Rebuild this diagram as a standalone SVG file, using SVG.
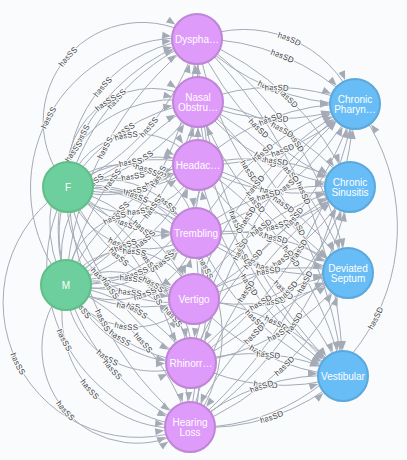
<svg xmlns="http://www.w3.org/2000/svg" width="407" height="460" viewBox="0 0 407 460">
<style>
.e{fill:none;stroke:#A5ABB6;stroke-width:1;marker-end:url(#arr)}
.l{font-family:"Liberation Sans",Arial,sans-serif;font-size:8px;fill:#3a3a3a;text-anchor:middle;dominant-baseline:central;stroke:#F9FBFD;stroke-width:2;paint-order:stroke}
.sym{fill:#DE9BF9;stroke:#BF85D6;stroke-width:2}
.gen{fill:#6DCE9E;stroke:#60BE86;stroke-width:2}
.dis{fill:#68BDF6;stroke:#5CA8DB;stroke-width:2}
.t{font-family:"Liberation Sans",Arial,sans-serif;font-size:10px;fill:#ffffff;text-anchor:middle}
</style>
<defs>
<marker id="arr" markerUnits="userSpaceOnUse" markerWidth="10" markerHeight="10" refX="0" refY="0" orient="auto" overflow="visible">
<path d="M-35,-3.5 L-26,0 L-35,3.5 Z" fill="#A5ABB6"/>
</marker>
</defs>
<rect width="407" height="460" fill="#F9FBFD"/>
<g id="connectors">
<path id="e1" class="e" d="M68 187 A99 99 0 0 1 197 39"/>
<path id="e2" class="e" d="M68 187 A140 140 0 0 1 197 39"/>
<path id="e3" class="e" d="M68 187 A235 235 0 0 1 197 39"/>
<path id="e4" class="e" d="M68 187 A235 235 0 0 0 197 39"/>
<path id="e5" class="e" d="M68 187 A85 85 0 0 1 198 102"/>
<path id="e6" class="e" d="M68 187 A186 186 0 0 1 198 102"/>
<path id="e7" class="e" d="M68 187 A186 186 0 0 0 198 102"/>
<path id="e8" class="e" d="M68 187 A93 93 0 0 0 198 102"/>
<path id="e9" class="e" d="M68 187 A73 73 0 0 1 198 165"/>
<path id="e10" class="e" d="M68 187 A158 158 0 0 1 198 165"/>
<path id="e11" class="e" d="M68 187 L198 165"/>
<path id="e12" class="e" d="M68 187 A158 158 0 0 0 198 165"/>
<path id="e13" class="e" d="M68 187 A79 79 0 0 0 198 165"/>
<path id="e14" class="e" d="M68 187 A75 75 0 0 1 196 233"/>
<path id="e15" class="e" d="M68 187 A163 163 0 0 1 196 233"/>
<path id="e16" class="e" d="M68 187 A163 163 0 0 0 196 233"/>
<path id="e17" class="e" d="M68 187 A82 82 0 0 0 196 233"/>
<path id="e18" class="e" d="M68 187 A93 93 0 0 1 194 299"/>
<path id="e19" class="e" d="M68 187 A203 203 0 0 1 194 299"/>
<path id="e20" class="e" d="M68 187 A203 203 0 0 0 194 299"/>
<path id="e21" class="e" d="M68 187 A101 101 0 0 0 194 299"/>
<path id="e22" class="e" d="M68 187 A118 118 0 0 1 191 363"/>
<path id="e23" class="e" d="M68 187 A258 258 0 0 1 191 363"/>
<path id="e24" class="e" d="M68 187 A258 258 0 0 0 191 363"/>
<path id="e25" class="e" d="M68 187 A129 129 0 0 0 191 363"/>
<path id="e26" class="e" d="M68 187 A148 148 0 0 1 190 427"/>
<path id="e27" class="e" d="M68 187 A323 323 0 0 1 190 427"/>
<path id="e28" class="e" d="M68 187 A323 323 0 0 0 190 427"/>
<path id="e29" class="e" d="M68 187 A161 161 0 0 0 190 427"/>
<path id="e30" class="e" d="M68 187 A135 135 0 0 0 190 427"/>
<path id="e31" class="e" d="M66 285 A150 150 0 0 1 197 39"/>
<path id="e32" class="e" d="M66 285 A200 200 0 0 1 197 39"/>
<path id="e33" class="e" d="M66 285 A335 335 0 0 1 197 39"/>
<path id="e34" class="e" d="M66 285 A335 335 0 0 0 197 39"/>
<path id="e35" class="e" d="M66 285 A124 124 0 0 1 198 102"/>
<path id="e36" class="e" d="M66 285 A271 271 0 0 1 198 102"/>
<path id="e37" class="e" d="M66 285 A271 271 0 0 0 198 102"/>
<path id="e38" class="e" d="M66 285 A136 136 0 0 0 198 102"/>
<path id="e39" class="e" d="M66 285 A98 98 0 0 1 198 165"/>
<path id="e40" class="e" d="M66 285 A214 214 0 0 1 198 165"/>
<path id="e41" class="e" d="M66 285 A214 214 0 0 0 198 165"/>
<path id="e42" class="e" d="M66 285 A107 107 0 0 0 198 165"/>
<path id="e43" class="e" d="M66 285 A77 77 0 0 1 196 233"/>
<path id="e44" class="e" d="M66 285 A168 168 0 0 1 196 233"/>
<path id="e45" class="e" d="M66 285 A168 168 0 0 0 196 233"/>
<path id="e46" class="e" d="M66 285 A84 84 0 0 0 196 233"/>
<path id="e47" class="e" d="M66 285 A71 71 0 0 1 194 299"/>
<path id="e48" class="e" d="M66 285 A155 155 0 0 1 194 299"/>
<path id="e49" class="e" d="M66 285 L194 299"/>
<path id="e50" class="e" d="M66 285 A155 155 0 0 0 194 299"/>
<path id="e51" class="e" d="M66 285 A77 77 0 0 0 194 299"/>
<path id="e52" class="e" d="M66 285 A81 81 0 0 1 191 363"/>
<path id="e53" class="e" d="M66 285 A176 176 0 0 1 191 363"/>
<path id="e54" class="e" d="M66 285 A176 176 0 0 0 191 363"/>
<path id="e55" class="e" d="M66 285 A88 88 0 0 0 191 363"/>
<path id="e56" class="e" d="M66 285 A104 104 0 0 1 190 427"/>
<path id="e57" class="e" d="M66 285 A227 227 0 0 1 190 427"/>
<path id="e58" class="e" d="M66 285 A227 227 0 0 0 190 427"/>
<path id="e59" class="e" d="M66 285 A113 113 0 0 0 190 427"/>
<path id="e60" class="e" d="M66 285 A95 95 0 0 0 190 427"/>
<path id="e61" class="e" d="M197 39 A222 222 0 0 1 355 104"/>
<path id="e62" class="e" d="M197 39 A222 222 0 0 0 355 104"/>
<path id="e63" class="e" d="M197 39 A120 120 0 0 1 355 104"/>
<path id="e64" class="e" d="M197 39 A277 277 0 0 1 350 187"/>
<path id="e65" class="e" d="M197 39 A277 277 0 0 0 350 187"/>
<path id="e66" class="e" d="M197 39 A361 361 0 0 1 348 273"/>
<path id="e67" class="e" d="M197 39 A361 361 0 0 0 348 273"/>
<path id="e68" class="e" d="M197 39 A477 477 0 0 1 343 376"/>
<path id="e69" class="e" d="M197 39 A477 477 0 0 0 343 376"/>
<path id="e70" class="e" d="M198 102 A204 204 0 0 1 355 104"/>
<path id="e71" class="e" d="M198 102 A204 204 0 0 0 355 104"/>
<path id="e72" class="e" d="M198 102 A226 226 0 0 1 350 187"/>
<path id="e73" class="e" d="M198 102 A226 226 0 0 0 350 187"/>
<path id="e74" class="e" d="M198 102 A295 295 0 0 1 348 273"/>
<path id="e75" class="e" d="M198 102 A295 295 0 0 0 348 273"/>
<path id="e76" class="e" d="M198 102 A403 403 0 0 1 343 376"/>
<path id="e77" class="e" d="M198 102 A403 403 0 0 0 343 376"/>
<path id="e78" class="e" d="M198 165 A218 218 0 0 1 355 104"/>
<path id="e79" class="e" d="M198 165 A218 218 0 0 0 355 104"/>
<path id="e80" class="e" d="M198 165 A200 200 0 0 1 350 187"/>
<path id="e81" class="e" d="M198 165 A200 200 0 0 0 350 187"/>
<path id="e82" class="e" d="M198 165 A240 240 0 0 1 348 273"/>
<path id="e83" class="e" d="M198 165 A240 240 0 0 0 348 273"/>
<path id="e84" class="e" d="M198 165 A333 333 0 0 1 343 376"/>
<path id="e85" class="e" d="M198 165 A333 333 0 0 0 343 376"/>
<path id="e86" class="e" d="M196 233 A266 266 0 0 1 355 104"/>
<path id="e87" class="e" d="M196 233 A266 266 0 0 0 355 104"/>
<path id="e88" class="e" d="M196 233 A209 209 0 0 1 350 187"/>
<path id="e89" class="e" d="M196 233 A209 209 0 0 0 350 187"/>
<path id="e90" class="e" d="M196 233 A204 204 0 0 1 348 273"/>
<path id="e91" class="e" d="M196 233 A204 204 0 0 0 348 273"/>
<path id="e92" class="e" d="M196 233 A266 266 0 0 1 343 376"/>
<path id="e93" class="e" d="M196 233 A266 266 0 0 0 343 376"/>
<path id="e94" class="e" d="M194 299 A329 329 0 0 1 355 104"/>
<path id="e95" class="e" d="M194 299 A329 329 0 0 0 355 104"/>
<path id="e96" class="e" d="M194 299 A250 250 0 0 1 350 187"/>
<path id="e97" class="e" d="M194 299 A250 250 0 0 0 350 187"/>
<path id="e98" class="e" d="M194 299 A203 203 0 0 1 348 273"/>
<path id="e99" class="e" d="M194 299 A203 203 0 0 0 348 273"/>
<path id="e100" class="e" d="M194 299 A218 218 0 0 1 343 376"/>
<path id="e101" class="e" d="M194 299 A218 218 0 0 0 343 376"/>
<path id="e102" class="e" d="M191 363 A399 399 0 0 1 355 104"/>
<path id="e103" class="e" d="M191 363 A399 399 0 0 0 355 104"/>
<path id="e104" class="e" d="M191 363 A308 308 0 0 1 350 187"/>
<path id="e105" class="e" d="M191 363 A308 308 0 0 0 350 187"/>
<path id="e106" class="e" d="M191 363 A235 235 0 0 1 348 273"/>
<path id="e107" class="e" d="M191 363 A235 235 0 0 0 348 273"/>
<path id="e108" class="e" d="M191 363 A199 199 0 0 1 343 376"/>
<path id="e109" class="e" d="M191 363 A199 199 0 0 0 343 376"/>
<path id="e110" class="e" d="M190 427 A472 472 0 0 1 355 104"/>
<path id="e111" class="e" d="M190 427 A472 472 0 0 0 355 104"/>
<path id="e112" class="e" d="M190 427 A200 200 0 0 0 355 104"/>
<path id="e113" class="e" d="M190 427 A374 374 0 0 1 350 187"/>
<path id="e114" class="e" d="M190 427 A374 374 0 0 0 350 187"/>
<path id="e115" class="e" d="M190 427 A287 287 0 0 1 348 273"/>
<path id="e116" class="e" d="M190 427 A287 287 0 0 0 348 273"/>
<path id="e117" class="e" d="M190 427 A209 209 0 0 1 343 376"/>
<path id="e118" class="e" d="M190 427 A209 209 0 0 0 343 376"/>
<path id="e119" class="e" d="M198 102 L197 39"/>
<path id="e120" class="e" d="M198 165 L198 102"/>
<text class="l"><textPath href="#e1" startOffset="50%">hasSS</textPath></text>
<text class="l"><textPath href="#e2" startOffset="50%">hasSS</textPath></text>
<text class="l"><textPath href="#e3" startOffset="50%">hasSS</textPath></text>
<text class="l"><textPath href="#e4" startOffset="50%">hasSS</textPath></text>
<text class="l"><textPath href="#e5" startOffset="50%">hasSS</textPath></text>
<text class="l"><textPath href="#e6" startOffset="50%">hasSS</textPath></text>
<text class="l"><textPath href="#e7" startOffset="50%">hasSS</textPath></text>
<text class="l"><textPath href="#e8" startOffset="50%">hasSS</textPath></text>
<text class="l"><textPath href="#e9" startOffset="50%">hasSS</textPath></text>
<text class="l"><textPath href="#e10" startOffset="50%">hasSS</textPath></text>
<text class="l"><textPath href="#e11" startOffset="50%">hasSS</textPath></text>
<text class="l"><textPath href="#e12" startOffset="50%">hasSS</textPath></text>
<text class="l"><textPath href="#e13" startOffset="50%">hasSS</textPath></text>
<text class="l"><textPath href="#e14" startOffset="50%">hasSS</textPath></text>
<text class="l"><textPath href="#e15" startOffset="50%">hasSS</textPath></text>
<text class="l"><textPath href="#e16" startOffset="50%">hasSS</textPath></text>
<text class="l"><textPath href="#e17" startOffset="50%">hasSS</textPath></text>
<text class="l"><textPath href="#e18" startOffset="50%">hasSS</textPath></text>
<text class="l"><textPath href="#e19" startOffset="50%">hasSS</textPath></text>
<text class="l"><textPath href="#e20" startOffset="50%">hasSS</textPath></text>
<text class="l"><textPath href="#e21" startOffset="50%">hasSS</textPath></text>
<text class="l"><textPath href="#e22" startOffset="50%">hasSS</textPath></text>
<text class="l"><textPath href="#e23" startOffset="50%">hasSS</textPath></text>
<text class="l"><textPath href="#e24" startOffset="50%">hasSS</textPath></text>
<text class="l"><textPath href="#e25" startOffset="50%">hasSS</textPath></text>
<text class="l"><textPath href="#e26" startOffset="50%">hasSS</textPath></text>
<text class="l"><textPath href="#e27" startOffset="50%">hasSS</textPath></text>
<text class="l"><textPath href="#e28" startOffset="50%">hasSS</textPath></text>
<text class="l"><textPath href="#e29" startOffset="50%">hasSS</textPath></text>
<text class="l"><textPath href="#e30" startOffset="50%">hasSS</textPath></text>
<text class="l"><textPath href="#e31" startOffset="50%">hasSS</textPath></text>
<text class="l"><textPath href="#e32" startOffset="50%">hasSS</textPath></text>
<text class="l"><textPath href="#e33" startOffset="50%">hasSS</textPath></text>
<text class="l"><textPath href="#e34" startOffset="50%">hasSS</textPath></text>
<text class="l"><textPath href="#e35" startOffset="50%">hasSS</textPath></text>
<text class="l"><textPath href="#e36" startOffset="50%">hasSS</textPath></text>
<text class="l"><textPath href="#e37" startOffset="50%">hasSS</textPath></text>
<text class="l"><textPath href="#e38" startOffset="50%">hasSS</textPath></text>
<text class="l"><textPath href="#e39" startOffset="50%">hasSS</textPath></text>
<text class="l"><textPath href="#e40" startOffset="50%">hasSS</textPath></text>
<text class="l"><textPath href="#e41" startOffset="50%">hasSS</textPath></text>
<text class="l"><textPath href="#e42" startOffset="50%">hasSS</textPath></text>
<text class="l"><textPath href="#e43" startOffset="50%">hasSS</textPath></text>
<text class="l"><textPath href="#e44" startOffset="50%">hasSS</textPath></text>
<text class="l"><textPath href="#e45" startOffset="50%">hasSS</textPath></text>
<text class="l"><textPath href="#e46" startOffset="50%">hasSS</textPath></text>
<text class="l"><textPath href="#e47" startOffset="50%">hasSS</textPath></text>
<text class="l"><textPath href="#e48" startOffset="50%">hasSS</textPath></text>
<text class="l"><textPath href="#e49" startOffset="50%">hasSS</textPath></text>
<text class="l"><textPath href="#e50" startOffset="50%">hasSS</textPath></text>
<text class="l"><textPath href="#e51" startOffset="50%">hasSS</textPath></text>
<text class="l"><textPath href="#e52" startOffset="50%">hasSS</textPath></text>
<text class="l"><textPath href="#e53" startOffset="50%">hasSS</textPath></text>
<text class="l"><textPath href="#e54" startOffset="50%">hasSS</textPath></text>
<text class="l"><textPath href="#e55" startOffset="50%">hasSS</textPath></text>
<text class="l"><textPath href="#e56" startOffset="50%">hasSS</textPath></text>
<text class="l"><textPath href="#e57" startOffset="50%">hasSS</textPath></text>
<text class="l"><textPath href="#e58" startOffset="50%">hasSS</textPath></text>
<text class="l"><textPath href="#e59" startOffset="50%">hasSS</textPath></text>
<text class="l"><textPath href="#e60" startOffset="50%">hasSS</textPath></text>
<text class="l"><textPath href="#e61" startOffset="50%">hasSD</textPath></text>
<text class="l"><textPath href="#e62" startOffset="50%">hasSD</textPath></text>
<text class="l"><textPath href="#e63" startOffset="50%">hasSD</textPath></text>
<text class="l"><textPath href="#e64" startOffset="50%">hasSD</textPath></text>
<text class="l"><textPath href="#e65" startOffset="50%">hasSD</textPath></text>
<text class="l"><textPath href="#e66" startOffset="50%">hasSD</textPath></text>
<text class="l"><textPath href="#e67" startOffset="50%">hasSD</textPath></text>
<text class="l"><textPath href="#e68" startOffset="50%">hasSD</textPath></text>
<text class="l"><textPath href="#e69" startOffset="50%">hasSD</textPath></text>
<text class="l"><textPath href="#e70" startOffset="50%">hasSD</textPath></text>
<text class="l"><textPath href="#e71" startOffset="50%">hasSD</textPath></text>
<text class="l"><textPath href="#e72" startOffset="50%">hasSD</textPath></text>
<text class="l"><textPath href="#e73" startOffset="50%">hasSD</textPath></text>
<text class="l"><textPath href="#e74" startOffset="50%">hasSD</textPath></text>
<text class="l"><textPath href="#e75" startOffset="50%">hasSD</textPath></text>
<text class="l"><textPath href="#e76" startOffset="50%">hasSD</textPath></text>
<text class="l"><textPath href="#e77" startOffset="50%">hasSD</textPath></text>
<text class="l"><textPath href="#e78" startOffset="50%">hasSD</textPath></text>
<text class="l"><textPath href="#e79" startOffset="50%">hasSD</textPath></text>
<text class="l"><textPath href="#e80" startOffset="50%">hasSD</textPath></text>
<text class="l"><textPath href="#e81" startOffset="50%">hasSD</textPath></text>
<text class="l"><textPath href="#e82" startOffset="50%">hasSD</textPath></text>
<text class="l"><textPath href="#e83" startOffset="50%">hasSD</textPath></text>
<text class="l"><textPath href="#e84" startOffset="50%">hasSD</textPath></text>
<text class="l"><textPath href="#e85" startOffset="50%">hasSD</textPath></text>
<text class="l"><textPath href="#e86" startOffset="50%">hasSD</textPath></text>
<text class="l"><textPath href="#e87" startOffset="50%">hasSD</textPath></text>
<text class="l"><textPath href="#e88" startOffset="50%">hasSD</textPath></text>
<text class="l"><textPath href="#e89" startOffset="50%">hasSD</textPath></text>
<text class="l"><textPath href="#e90" startOffset="50%">hasSD</textPath></text>
<text class="l"><textPath href="#e91" startOffset="50%">hasSD</textPath></text>
<text class="l"><textPath href="#e92" startOffset="50%">hasSD</textPath></text>
<text class="l"><textPath href="#e93" startOffset="50%">hasSD</textPath></text>
<text class="l"><textPath href="#e94" startOffset="50%">hasSD</textPath></text>
<text class="l"><textPath href="#e95" startOffset="50%">hasSD</textPath></text>
<text class="l"><textPath href="#e96" startOffset="50%">hasSD</textPath></text>
<text class="l"><textPath href="#e97" startOffset="50%">hasSD</textPath></text>
<text class="l"><textPath href="#e98" startOffset="50%">hasSD</textPath></text>
<text class="l"><textPath href="#e99" startOffset="50%">hasSD</textPath></text>
<text class="l"><textPath href="#e100" startOffset="50%">hasSD</textPath></text>
<text class="l"><textPath href="#e101" startOffset="50%">hasSD</textPath></text>
<text class="l"><textPath href="#e102" startOffset="50%">hasSD</textPath></text>
<text class="l"><textPath href="#e103" startOffset="50%">hasSD</textPath></text>
<text class="l"><textPath href="#e104" startOffset="50%">hasSD</textPath></text>
<text class="l"><textPath href="#e105" startOffset="50%">hasSD</textPath></text>
<text class="l"><textPath href="#e106" startOffset="50%">hasSD</textPath></text>
<text class="l"><textPath href="#e107" startOffset="50%">hasSD</textPath></text>
<text class="l"><textPath href="#e108" startOffset="50%">hasSD</textPath></text>
<text class="l"><textPath href="#e109" startOffset="50%">hasSD</textPath></text>
<text class="l"><textPath href="#e110" startOffset="50%">hasSD</textPath></text>
<text class="l"><textPath href="#e111" startOffset="50%">hasSD</textPath></text>
<text class="l"><textPath href="#e112" startOffset="50%">hasSD</textPath></text>
<text class="l"><textPath href="#e113" startOffset="50%">hasSD</textPath></text>
<text class="l"><textPath href="#e114" startOffset="50%">hasSD</textPath></text>
<text class="l"><textPath href="#e115" startOffset="50%">hasSD</textPath></text>
<text class="l"><textPath href="#e116" startOffset="50%">hasSD</textPath></text>
<text class="l"><textPath href="#e117" startOffset="50%">hasSD</textPath></text>
<text class="l"><textPath href="#e118" startOffset="50%">hasSD</textPath></text>
</g>
<g id="node-dysphagia"><circle class="sym" cx="197" cy="39" r="25"/><text class="t" x="197" y="42.5">Dyspha…</text></g>
<g id="node-nasal-obstruction"><circle class="sym" cx="198" cy="102" r="25"/><text class="t" x="198" y="100.5">Nasal</text><text class="t" x="198" y="110.5">Obstru…</text></g>
<g id="node-headache"><circle class="sym" cx="198" cy="165" r="25"/><text class="t" x="198" y="168.5">Headac…</text></g>
<g id="node-trembling"><circle class="sym" cx="196" cy="233" r="25"/><text class="t" x="196" y="236.5">Trembling</text></g>
<g id="node-vertigo"><circle class="sym" cx="194" cy="299" r="25"/><text class="t" x="194" y="302.5">Vertigo</text></g>
<g id="node-rhinorrhea"><circle class="sym" cx="191" cy="363" r="25"/><text class="t" x="191" y="366.5">Rhinorr…</text></g>
<g id="node-hearing-loss"><circle class="sym" cx="190" cy="427" r="25"/><text class="t" x="190" y="425.5">Hearing</text><text class="t" x="190" y="435.5">Loss</text></g>
<g id="node-f"><circle class="gen" cx="68" cy="187" r="25"/><text class="t" x="68" y="190.5">F</text></g>
<g id="node-m"><circle class="gen" cx="66" cy="285" r="25"/><text class="t" x="66" y="288.5">M</text></g>
<g id="node-chronic-pharyngitis"><circle class="dis" cx="355" cy="104" r="25"/><text class="t" x="355" y="102.5">Chronic</text><text class="t" x="355" y="112.5">Pharyn…</text></g>
<g id="node-chronic-sinusitis"><circle class="dis" cx="350" cy="187" r="25"/><text class="t" x="350" y="185.5">Chronic</text><text class="t" x="350" y="195.5">Sinusitis</text></g>
<g id="node-deviated-septum"><circle class="dis" cx="348" cy="273" r="25"/><text class="t" x="348" y="271.5">Deviated</text><text class="t" x="348" y="281.5">Septum</text></g>
<g id="node-vestibular"><circle class="dis" cx="343" cy="376" r="25"/><text class="t" x="343" y="379.5">Vestibular</text></g>
</svg>
